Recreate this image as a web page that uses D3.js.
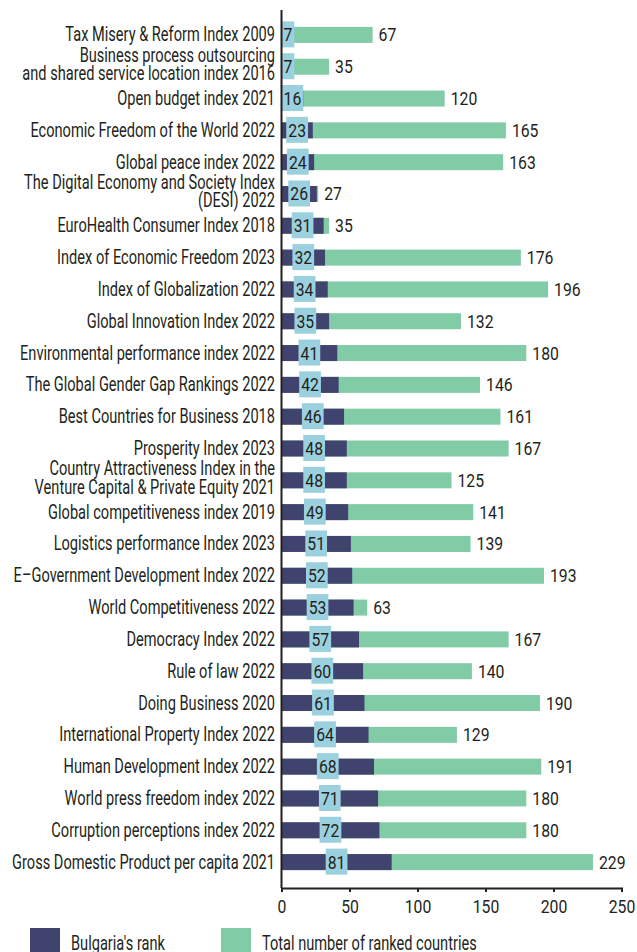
<!DOCTYPE html>
<html>
<head>
<meta charset="utf-8">
<script src="https://cdn.jsdelivr.net/npm/d3@7"></script>
<style>
  body { margin: 0; background: #fff; }
  text { font-family: Roboto, "Noto Sans", sans-serif; fill: #231f20; }
</style>
</head>
<body>
<script>
// index names, top to bottom ("\n" = line break in the label)
var indexNames = [
    "Tax Misery & Reform Index 2009",
    "Business process outsourcing\nand shared service location index  2016",
    "Open budget index 2021",
    "Economic Freedom of the World 2022",
    "Global peace index 2022",
    "The Digital Economy and Society Index\n(DESI) 2022",
    "EuroHealth Consumer Index 2018",
    "Index of Economic Freedom  2023",
    "Index of Globalization 2022",
    "Global Innovation Index 2022",
    "Environmental performance index 2022",
    "The Global Gender Gap Rankings 2022",
    "Best Countries for Business 2018",
    "Prosperity Index 2023",
    "Country Attractiveness Index in the\nVenture Capital & Private Equity 2021",
    "Global competitiveness index 2019",
    "Logistics performance Index 2023",
    "E\u2013Government Development Index 2022",
    "World Competitiveness 2022",
    "Democracy Index 2022",
    "Rule of law 2022",
    "Doing Business 2020",
    "International Property Index 2022",
    "Human Development Index  2022",
    "World press freedom index 2022",
    "Corruption perceptions index 2022",
    "Gross Domestic Product per capita 2021"
];

// Bulgaria's rank in each index
var bgRank = [7, 7, 16, 23, 24, 26, 31, 32, 34, 35, 41, 42, 46, 48, 48, 49, 51, 52, 53, 57, 60, 61, 64, 68, 71, 72, 81];

// total number of ranked countries
var totalRanked = [67, 35, 120, 165, 163, 27, 35, 176, 196, 132, 180, 146, 161, 167, 125, 141, 139, 193, 63, 167, 140, 190, 129, 191, 180, 180, 229];

var xTicks = [0, 50, 100, 150, 200, 250];
var legendLabels = ["Bulgaria's rank", "Total number of ranked countries"];

(function(){

    var width = 637, height = 952;
    var navy = "#41436f", green = "#81cba7", lightBlue = "#9bd0de", ink = "#231f20";
    var textSx = 0.73, numSx = 0.83;   // condensed look

    var svg = d3.select("body").append("svg")
        .attr("width", width)
        .attr("height", height);

    var x = d3.scaleLinear().domain([0, 250]).range([281.5, 621.5]);
    var y = d3.scalePoint().domain(d3.range(indexNames.length)).range([19, 878]).padding(0.5);
    var barH = 16;

    var rows = indexNames.map(function(name, i){
        return {name: name, rank: bgRank[i], total: totalRanked[i], i: i};
    });

    // total bars (behind)
    svg.selectAll(".total")
        .data(rows).enter().append("rect")
        .attr("class", "total")
        .attr("x", x(0))
        .attr("y", function(d){ return y(d.i) - barH / 2; })
        .attr("width", function(d){ return x(d.total) - x(0); })
        .attr("height", barH)
        .style("fill", green);

    // rank bars
    svg.selectAll(".rank")
        .data(rows).enter().append("rect")
        .attr("class", "rank")
        .attr("x", x(0))
        .attr("y", function(d){ return y(d.i) - barH / 2; })
        .attr("width", function(d){ return x(d.rank) - x(0); })
        .attr("height", barH)
        .style("fill", navy);

    // total value labels
    svg.selectAll(".totalLabel")
        .data(rows).enter().append("text")
        .attr("class", "totalLabel")
        .attr("transform", function(d){
            return "translate(" + (x(d.total) + 6) + "," + (y(d.i) + 6.5) + ") scale(" + numSx + ",1)";
        })
        .style("font-size", "19px")
        .text(function(d){ return d.total; });

    // rank labels on light blue boxes
    var rankG = svg.selectAll(".rankLabel")
        .data(rows).enter().append("g")
        .attr("class", "rankLabel");
    var boxes = rankG.append("rect").style("fill", lightBlue);
    var rankText = rankG.append("text")
        .style("font-size", "19px")
        .attr("text-anchor", "middle")
        .text(function(d){ return d.rank; });
    rankText.each(function(d){
        var w = this.getComputedTextLength() * numSx + 4;
        var cx = Math.max(x(d.rank / 2), x(0) + w / 2);
        d.boxW = w; d.cx = cx;
    });
    rankText.attr("transform", function(d){
        return "translate(" + d.cx + "," + (y(d.i) + 6.5) + ") scale(" + numSx + ",1)";
    });
    boxes.attr("x", function(d){ return d.cx - d.boxW / 2; })
        .attr("y", function(d){ return y(d.i) - 13.5; })
        .attr("width", function(d){ return d.boxW; })
        .attr("height", 26);

    // category labels
    var cat = svg.selectAll(".catLabel")
        .data(rows).enter().append("text")
        .attr("class", "catLabel")
        .attr("text-anchor", "end")
        .style("font-size", "20px")
        .attr("transform", function(d){
            var lines = d.name.split("\n");
            var base = lines.length > 1 ? y(d.i) - 5 : y(d.i) + 6.5;
            return "translate(275," + base + ") scale(" + textSx + ",1)";
        });
    cat.each(function(d){
        var t = d3.select(this);
        d.name.split("\n").forEach(function(line, k){
            t.append("tspan").attr("x", 0).attr("dy", k === 0 ? 0 : 18.5).text(line);
        });
    });

    // y axis line
    svg.append("line")
        .attr("x1", x(0)).attr("x2", x(0))
        .attr("y1", 10).attr("y2", 888)
        .style("stroke", ink).style("stroke-width", 2);

    // x axis
    var axis = svg.append("g")
        .attr("class", "axis")
        .attr("transform", "translate(0,888)")
        .call(d3.axisBottom(x).tickValues(xTicks).tickSize(4).tickSizeOuter(4));
    axis.selectAll("path, line").style("stroke", ink).style("stroke-width", 2);
    axis.selectAll("text")
        .style("font-size", "19px")
        .style("font-family", "Roboto, sans-serif")
        .style("fill", ink)
        .attr("y", 0).attr("dy", 0)
        .attr("transform", "translate(0,25) scale(" + numSx + ",1)");

    // legend
    var legendX = [30, 221];
    var legendColors = [navy, green];
    var leg = svg.selectAll(".legend")
        .data(legendLabels).enter().append("g")
        .attr("class", "legend")
        .attr("transform", function(d, i){ return "translate(" + legendX[i] + ",928)"; });
    leg.append("rect")
        .attr("width", 30).attr("height", 26)
        .style("fill", function(d, i){ return legendColors[i]; });
    leg.append("text")
        .attr("transform", "translate(41,21.5) scale(" + textSx + ",1)")
        .style("font-size", "20px")
        .text(function(d){ return d; });

})();
</script>
</body>
</html>
